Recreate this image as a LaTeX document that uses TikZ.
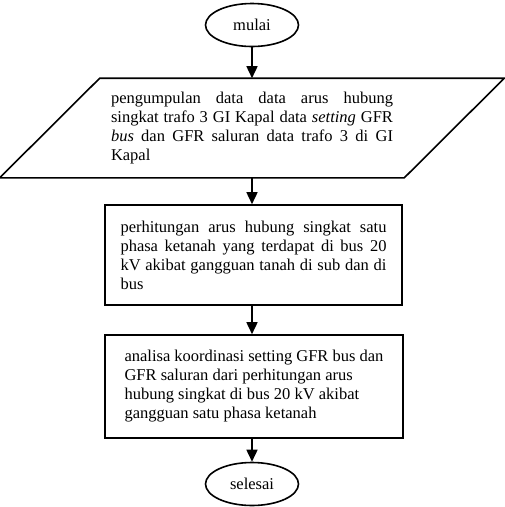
\documentclass[tikz,border=0pt]{standalone}
\usepackage{fontspec}
\setmainfont{Liberation Serif}
\usetikzlibrary{shapes.geometric,arrows.meta}
\hyphenpenalty=10000

\tikzset{
  terminal/.style={draw, ellipse, minimum width=93pt, minimum height=43pt, inner sep=0pt},
  masukan/.style={rectangle, minimum width=403pt, minimum height=98pt, inner sep=0pt,
    text width=282pt, align=justify},
  proses/.style={draw, rectangle, inner sep=0pt},
  panah/.style={-{Triangle[length=12pt, width=11pt]}},
}

\begin{document}
\begin{tikzpicture}[x=1pt, y=-1pt, line width=1.6pt, font=\fontsize{16.5}{19}\selectfont]
    \useasboundingbox (0,0) rectangle (505,507);

    % 1. Terminal mulai
    \node[terminal] (mulai) at (252,25) {mulai};

    % 2. Input data (jajaran genjang)
    \node[masukan] (kumpul) at (252,128)
        {pengumpulan data data arus hubung\linebreak
         singkat trafo 3 GI Kapal data \textit{setting} GFR\linebreak
         \textit{bus} dan GFR saluran data trafo 3 di GI\linebreak
         Kapal};
    \draw ([xshift=50pt]kumpul.north west) -- ([xshift=50pt]kumpul.north east)
        -- ([xshift=-50pt]kumpul.south east) -- ([xshift=-50pt]kumpul.south west) -- cycle;

    % 3. Proses perhitungan
    \node[proses, minimum width=297pt, minimum height=100pt, text width=266pt, align=justify]
        (hitung) at (253.5,255)
        {perhitungan arus hubung singkat satu\linebreak
         phasa ketanah yang terdapat di bus 20\linebreak
         kV akibat gangguan tanah di sub dan di\linebreak
         bus};

    % 4. Proses analisa
    \node[proses, minimum width=298pt, minimum height=103pt, align=left]
        (analisa) at (254,386.5)
        {analisa koordinasi setting GFR bus dan\\
         GFR saluran dari perhitungan arus\\
         hubung singkat  di bus 20 kV akibat\\
         gangguan satu phasa ketanah};

    % 5. Terminal selesai
    \node[terminal] (selesai) at (252,484) {selesai};

    % 6. Panah alir
    \draw[panah] (mulai.south) -- (mulai.south |- kumpul.north);
    \draw[panah] (kumpul.south) -- (kumpul.south |- hitung.north);
    \draw[panah] (kumpul.south |- hitung.south) -- (kumpul.south |- analisa.north);
    \draw[panah] (kumpul.south |- analisa.south) -- (kumpul.south |- selesai.north);
\end{tikzpicture}
\end{document}
